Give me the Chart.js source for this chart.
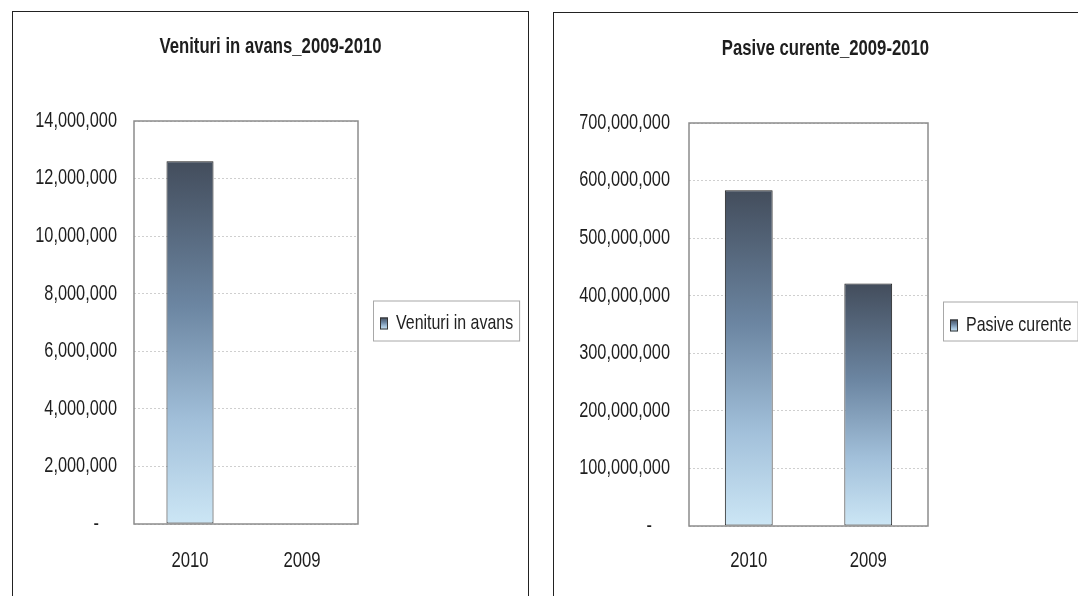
<!DOCTYPE html>
<html lang="ro">
<head>
  <meta charset="UTF-8" />
  <title>Venituri in avans / Pasive curente 2009-2010</title>
  <script src="https://cdn.jsdelivr.net/npm/chart.js"></script>
  <style>
    body { margin: 0; background: #fff; width: 1078px; height: 596px; overflow: hidden; position: relative; }
    .frame { position: absolute; border: 1.5px solid #222; box-sizing: border-box; }
    #f1 { left: 12px; top: 11px; width: 517px; height: 620px; }
    #f2 { left: 553px; top: 12px; width: 560px; height: 620px; }
    .box { position: absolute; }
    #b1 { left: 13px; top: 12px; width: 515px; height: 584px; }
    #b2 { left: 554px; top: 13px; width: 524px; height: 583px; }
  </style>
</head>
<body>
  <div class="frame" id="f1"></div>
  <div class="frame" id="f2"></div>
  <div class="box" id="b1"><canvas id="c1"></canvas></div>
  <div class="box" id="b2"><canvas id="c2"></canvas></div>

  <script>
    // date
    const years = ['2010', '2009'];
    const venituriInAvans = [12600000, 0];
    const pasiveCurente = [583000000, 421000000];
    const venituriTicks = { max: 14000000, step: 2000000 };
    const pasiveTicks = { max: 700000000, step: 100000000 };
    const perioada = '_2009-2010';

    const FONT = "'Liberation Sans', Arial, sans-serif";
    const NARROW = 0.76; // textul din scan e foarte ingust (Arial Narrow)

    // nu avem font narrow instalat, deci comprimam textul pe orizontala
    function condense(chart) {
      const ctx = chart.ctx;
      if (ctx._narrow) return;
      const fill = ctx.fillText.bind(ctx);
      const measure = ctx.measureText.bind(ctx);
      ctx.fillText = function (t, x, y) {
        ctx.save();
        ctx.translate(x, y);
        ctx.scale(NARROW, 1);
        fill(t, 0, 0);
        ctx.restore();
      };
      ctx.measureText = function (t) {
        const m = measure(t);
        return {
          width: m.width * NARROW,
          actualBoundingBoxAscent: m.actualBoundingBoxAscent,
          actualBoundingBoxDescent: m.actualBoundingBoxDescent
        };
      };
      ctx._narrow = true;
    }

    function barGradient(chart, top, bot) {
      const g = chart.ctx.createLinearGradient(0, top, 0, bot);
      g.addColorStop(0, '#434d5c');
      g.addColorStop(0.4, '#6c86a2');
      g.addColorStop(0.72, '#a2c0da');
      g.addColorStop(1, '#cce6f5');
      return g;
    }

    // titlu, chenarul zonei de grafic si legenda cu chenar
    function decorPlugin(cfg) {
      return {
        id: 'decor',
        beforeInit(chart) { condense(chart); },
        afterDraw(chart) {
          const a = chart.chartArea;
          const ctx = chart.ctx;
          const label = chart.data.datasets[0].label;
          ctx.save();

          ctx.fillStyle = '#1e1e1e';
          ctx.font = 'bold 22px ' + FONT;
          ctx.textAlign = 'center';
          ctx.textBaseline = 'middle';
          ctx.fillText(label + perioada, chart.width / 2 + cfg.titleDx, cfg.titleY);

          ctx.strokeStyle = '#8c8c8c';
          ctx.lineWidth = 1.5;
          ctx.strokeRect(a.left, a.top, a.right - a.left, a.bottom - a.top);

          const lg = cfg.legend;
          const cy = (a.top + a.bottom) / 2;
          const x = a.right + 15;
          ctx.font = lg.size + 'px ' + FONT;
          ctx.textAlign = 'left';
          const tw = ctx.measureText(label).width;
          ctx.strokeStyle = '#a8a8a8';
          ctx.lineWidth = 1;
          ctx.strokeRect(x + 0.5, cy + lg.top + 0.5, 23 + tw + 6, lg.h);
          ctx.fillStyle = barGradient(chart, cy - 5, cy + 7);
          ctx.fillRect(x + 7, cy - 5, 8, 12);
          ctx.strokeStyle = '#333';
          ctx.strokeRect(x + 7.5, cy - 4.5, 7, 11);
          ctx.fillStyle = '#222';
          ctx.fillText(label, x + 23, cy + 1);
          ctx.restore();
        }
      };
    }

    function makeChart(id, label, values, ticks, cfg) {
      return new Chart(document.getElementById(id), {
        type: 'bar',
        data: {
          labels: years,
          datasets: [{
            label: label,
            data: values,
            backgroundColor: function (c) {
              const chart = c.chart;
              if (!chart.chartArea || c.type !== 'data') return '#7f9bb8';
              const y = chart.scales.y;
              const top = y.getPixelForValue(c.raw);
              const bot = y.getPixelForValue(0);
              if (bot - top < 1) return '#7f9bb8';
              return barGradient(chart, top, bot);
            },
            borderColor: '#1e1e1e',
            borderWidth: c => (c.raw ? 1 : 0),
            borderSkipped: false,
            barPercentage: cfg.bar,
            categoryPercentage: 1
          }]
        },
        options: {
          responsive: true,
          maintainAspectRatio: false,
          animation: false,
          layout: { padding: { left: 0, right: cfg.padRight, top: cfg.padTop, bottom: 0 } },
          plugins: {
            legend: { display: false },
            tooltip: { enabled: false },
            title: { display: false }
          },
          scales: {
            x: {
              grid: { display: false },
              border: { display: false },
              ticks: { color: '#1e1e1e', padding: cfg.xPad, font: { family: FONT, size: 22 } },
              afterFit: s => { s.height = cfg.xh; }
            },
            y: {
              min: 0,
              max: ticks.max,
              grid: { color: '#cfcfcf', drawTicks: false, lineWidth: 1 },
              border: { display: false, dash: [2, 2] },
              ticks: {
                stepSize: ticks.step,
                color: '#1e1e1e',
                padding: cfg.yPad,
                font: { family: FONT, size: 21.5 },
                callback: v => (v === 0 ? '-    ' : v.toLocaleString('en-US'))
              },
              afterFit: s => { s.width = cfg.yw; }
            }
          }
        },
        plugins: [decorPlugin(cfg)]
      });
    }

    makeChart('c1', 'Venituri in avans', venituriInAvans, venituriTicks, {
      bar: 0.42, padRight: 170, padTop: 109, xh: 72, yw: 121, yPad: 17, xPad: 16,
      titleY: 35, titleDx: 0,
      legend: { size: 21, top: -22, h: 40 }
    });
    makeChart('c2', 'Pasive curente', pasiveCurente, pasiveTicks, {
      bar: 0.40, padRight: 150, padTop: 110, xh: 70, yw: 135, yPad: 19, xPad: 14,
      titleY: 36, titleDx: 9.5,
      legend: { size: 21, top: -23, h: 39 }
    });
  </script>
</body>
</html>
